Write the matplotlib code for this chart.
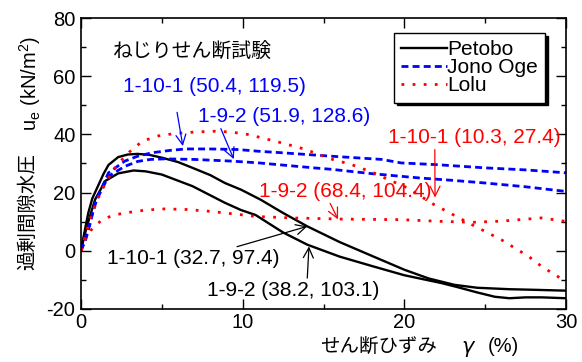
import matplotlib
matplotlib.use('Agg')
import matplotlib.pyplot as plt
import numpy as np

plt.rcParams['font.family'] = ['Liberation Sans', 'Noto Sans CJK JP']
plt.rcParams['mathtext.fontset'] = 'dejavusans'
plt.rcParams['axes.unicode_minus'] = False

# Petobo
pet1_x = [0, 0.2, 0.45, 0.7, 1.07, 1.4, 1.7, 2.3, 2.9, 3.5, 4.2, 5.0, 6.0, 6.9, 8.0, 8.9, 9.9, 11.1,
          12.5, 14.0, 16.0, 18.1, 20.0, 21.5, 23.1, 24.5, 26.5, 28.0, 30]
pet1_y = [0, 6, 13, 18, 22.5, 26.5, 29.5, 32.2, 33.1, 33.3, 33.0, 32, 30.5, 28.5, 26, 23.3, 21, 17.6,
          13, 8.4, 3, -2.0, -6.5, -9.5, -11.7, -12.7, -13.2, -13.4, -13.7]
pet2_x = [0, 0.2, 0.45, 0.87, 1.5, 2.3, 3.25, 4.0, 5.0, 6.9, 8.9, 9.9, 10.8, 12.5, 14, 16, 18.1, 20,
          22.3, 23.3, 24.5, 25.6, 26.5, 27.5, 28.5, 30]
pet2_y = [0, 5, 10, 17.6, 24.0, 26.6, 27.6, 27.3, 26.2, 22.2, 16.5, 14.0, 12.3, 6.3, 2.1, -2, -5.4, -8.4,
          -11.1, -12.5, -14.3, -15.8, -16.3, -16.0, -16, -16.3]

# Jono Oge
jon1_x = [0, 0.3, 0.6, 1.0, 1.7, 2.7, 3.5, 4.4, 5.5, 6.5, 8, 9.7, 11, 12.4, 15.5, 18.6, 19.8, 22, 25, 27.5, 30]
jon1_y = [0, 5, 11, 18, 26.8, 30.8, 32.5, 33.7, 34.5, 35, 35, 34.8, 34.2, 33.7, 32.5, 31.4, 30.2, 29.6,
          28.5, 27.8, 26.8]
jon2_x = [0, 0.3, 0.6, 0.87, 1.7, 2.7, 3.5, 4.3, 5.2, 7, 9.4, 11, 14.4, 15.5, 18, 19.8, 21, 23, 25, 27.5, 30]
jon2_y = [0, 4, 10, 16.5, 25.6, 29, 30.7, 31.4, 31.6, 31.4, 30.8, 30.2, 28.5, 28, 26.5, 25.6, 25, 24.2,
          23.3, 22, 20.4]

# Lolu
lol1_x = [0, 0.3, 0.7, 1.2, 1.7, 2.3, 3.0, 3.8, 4.8, 5.8, 7, 8.3, 9.3, 10.3, 11.2, 12.4, 13.8, 15.5,
          16.7, 18.1, 19, 20.2, 21.8, 24, 26, 27.7, 28.5, 30]
lol1_y = [0, 6, 13, 20, 25, 30, 34, 37.7, 39.5, 40.3, 40.8, 41.1, 40.8, 40, 38.8, 37.1, 35.0, 31.5,
          29.7, 26.8, 24.5, 21.6, 16.0, 9.5, 3.8, -2, -5.4, -10.6]
lol2_x = [0, 0.25, 0.6, 1.3, 2.0, 2.7, 4, 5.2, 6.5, 7.9, 9.9, 10.8, 13, 16.1, 19.8, 22.3, 24.3, 26, 28.5, 30]
lol2_y = [0, 3.8, 7, 10.7, 12.2, 13, 14, 14.4, 14.2, 13.6, 12.4, 11.8, 11.3, 10.9, 10.7, 10.1, 9.8,
          10.2, 11.3, 10.1]

fig = plt.figure(figsize=(5.82, 3.62), dpi=100)
ax = fig.add_axes([81 / 582, 1 - 309 / 362, 485 / 582, 291 / 362])

ax.plot(pet1_x, pet1_y, color='black', lw=1.7, label='Petobo')
ax.plot(pet2_x, pet2_y, color='black', lw=1.7)
ax.plot(jon1_x, jon1_y, color='blue', lw=2.0, dashes=(2.5, 1.5), label='Jono Oge')
ax.plot(jon2_x, jon2_y, color='blue', lw=2.0, dashes=(2.5, 1.5))
ax.plot(lol1_x, lol1_y, color='red', lw=2.0, dashes=(1, 3), label='Lolu')
ax.plot(lol2_x, lol2_y, color='red', lw=2.0, dashes=(1, 3))

ax.set_xlim(0, 30)
ax.set_ylim(-20, 80)
ax.set_xticks([0, 10, 20, 30])
ax.set_xticks([5, 15, 25], minor=True)
ax.set_yticks([-20, 0, 20, 40, 60, 80])
ax.set_yticks([-10, 10, 30, 50, 70], minor=True)
ax.tick_params(which='both', direction='in', top=True, right=True, labelsize=14.5, width=1)
ax.tick_params(which='major', length=7)
ax.tick_params(which='minor', length=3.5)
ax.tick_params(axis='y', pad=4)
ax.tick_params(axis='x', pad=3)
for s in ax.spines.values():
    s.set_linewidth(1.2)

ax.text(2.0, 68.3, 'ねじりせん断試験', fontsize=14.3, va='center', ha='left')

fs = 15
arr = dict(arrowstyle='->', lw=0.9, mutation_scale=18)
ax.annotate('1-10-1 (50.4, 119.5)', xy=(6.3, 36), xytext=(2.6, 56.5), fontsize=fs, color='blue',
            va='center', arrowprops=dict(arr, color='blue', shrinkA=10, shrinkB=0, relpos=(0.28, 0)))
ax.annotate('1-9-2 (51.9, 128.6)', xy=(9.45, 31.5), xytext=(7.25, 46.2), fontsize=fs, color='blue',
            va='center', arrowprops=dict(arr, color='blue', shrinkA=0, shrinkB=0, relpos=(0.12, 0.1)))
ax.annotate('1-10-1 (10.3, 27.4)', xy=(21.9, 18.3), xytext=(19.0, 39.0), fontsize=fs, color='red',
            va='center', arrowprops=dict(arr, color='red', shrinkA=0, shrinkB=0, relpos=(0.27, 0.1)))
ax.annotate('1-9-2 (68.4, 104.4)', xy=(15.9, 10.8), xytext=(11.0, 20.5), fontsize=fs, color='red',
            va='center', arrowprops=dict(arr, color='red', shrinkA=0, shrinkB=0, relpos=(0.4, 0.1)))
ax.annotate('1-10-1 (32.7, 97.4)', xy=(14.0, 8.4), xytext=(1.6, -2.8), fontsize=fs, color='black',
            va='center', arrowprops=dict(arr, color='black', shrinkA=0, shrinkB=0, relpos=(0.68, 0.95)))
ax.annotate('1-9-2 (38.2, 103.1)', xy=(14.1, 1.5), xytext=(7.8, -13.6), fontsize=fs, color='black',
            va='center', arrowprops=dict(arr, color='black', shrinkA=0, shrinkB=0, relpos=(0.58, 0.95)))

leg = ax.legend(loc='upper right', bbox_to_anchor=(0.957, 0.948), fontsize=15, frameon=True,
                fancybox=False, shadow={'color': 'black', 'alpha': 1.0}, edgecolor='black',
                handlelength=2.2, handletextpad=0.0, labelspacing=-0.05, borderpad=0.35,
                borderaxespad=0)
leg.get_frame().set_linewidth(1.0)
leg.get_frame().set_alpha(1.0)

# y label: Japanese part and symbol part
fig.text(28 / 582, 1 - 212 / 362, '過剰間隙水圧', rotation=90, fontsize=14, ha='center', va='center')
fig.text(30 / 582, 1 - 84 / 362, 'u$_\\mathregular{e}$ (kN/m$^\\mathregular{2}$)',
         rotation=90, fontsize=14.5, ha='center', va='center')
# x label
fig.text(320 / 582, 1 - 347 / 362, 'せん断ひずみ', fontsize=14, ha='left', va='center')
fig.text(469 / 582, 1 - 349 / 362, '$\\gamma$', fontsize=15, ha='center', va='center')
fig.text(488 / 582, 1 - 347 / 362, '(%)', fontsize=14.5, ha='left', va='center')

fig.savefig('out.png', dpi=100)
